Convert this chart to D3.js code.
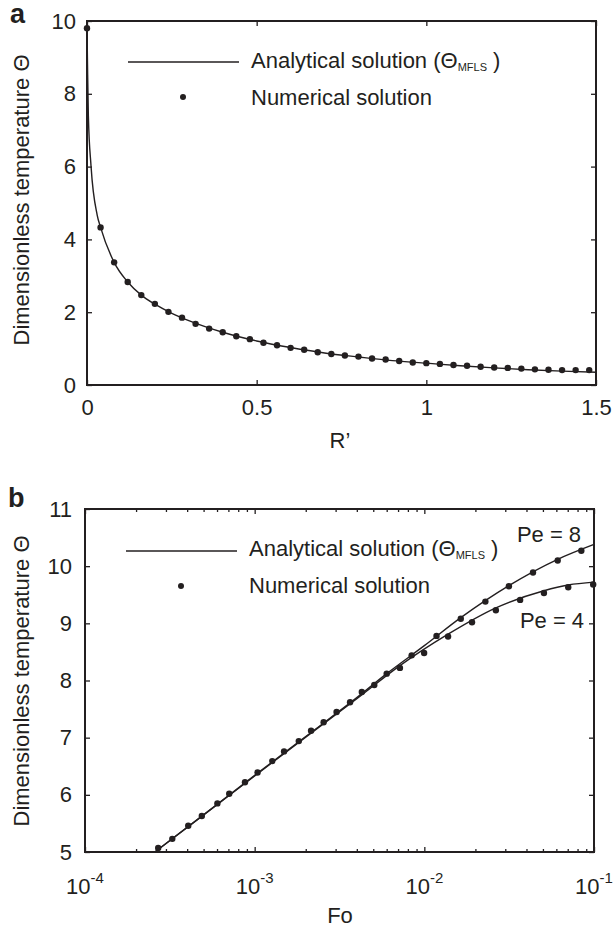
<!DOCTYPE html>
<html>
<head>
<meta charset="utf-8">
<script src="https://cdn.jsdelivr.net/npm/d3@7"></script>
<style>
body { margin: 0; background: #fff; }
text { font-family: "Liberation Sans", Arial, sans-serif; fill: #231f20; }
</style>
</head>
<body>
<script>
// panel a : theta vs R'
var rPts = [0, 0.04, 0.08, 0.12, 0.16, 0.20, 0.24, 0.28, 0.32, 0.36, 0.40, 0.44, 0.48, 0.52, 0.56, 0.60, 0.64, 0.68,
	0.72, 0.76, 0.80, 0.84, 0.88, 0.92, 0.96, 1.00, 1.04, 1.08, 1.12, 1.16, 1.20, 1.24, 1.28, 1.32, 1.36, 1.40, 1.44, 1.48];
var thetaPts = [9.8, 4.33, 3.37, 2.83, 2.47, 2.23, 2.01, 1.85, 1.68, 1.55, 1.45, 1.34, 1.26, 1.16, 1.09, 1.02, 0.97, 0.90,
	0.85, 0.81, 0.78, 0.73, 0.70, 0.66, 0.62, 0.60, 0.58, 0.55, 0.53, 0.50, 0.48, 0.47, 0.45, 0.43, 0.42, 0.41, 0.41, 0.41];
var rLine = [0, 0.0015, 0.004, 0.012, 0.03, 0.04, 0.08, 0.12, 0.16, 0.2, 0.25, 0.3, 0.4, 0.5, 0.6, 0.7, 0.8, 0.9, 1.0, 1.1, 1.2, 1.3, 1.4, 1.5];
var thetaLine = [9.8, 8.8, 7.4, 6.0, 4.67, 4.33, 3.37, 2.83, 2.47, 2.22, 1.97, 1.77, 1.45, 1.21, 1.03, 0.88, 0.77, 0.67, 0.60, 0.53, 0.47, 0.42, 0.38, 0.35];
var xTicksA = [0, 0.5, 1, 1.5];
var yTicksA = [0, 2, 4, 6, 8, 10];

// panel b : theta vs Fo
var foPe4 = [2.70e-4, 4.06e-4, 6.03e-4, 8.77e-4, 1.27e-3, 1.82e-3, 2.55e-3, 3.65e-3, 5.07e-3, 7.18e-3, 9.97e-3,
	1.38e-2, 1.91e-2, 2.64e-2, 3.67e-2, 5.07e-2, 7.05e-2, 9.89e-2];
var thPe4 = [5.07, 5.46, 5.85, 6.22, 6.59, 6.94, 7.27, 7.62, 7.92, 8.22, 8.48, 8.77, 9.02, 9.23, 9.41, 9.53, 9.63, 9.68];
var foPe8 = [3.27e-4, 4.88e-4, 7.08e-4, 1.04e-3, 1.49e-3, 2.15e-3, 3.04e-3, 4.28e-3, 6.00e-3, 8.42e-3,
	1.18e-2, 1.64e-2, 2.29e-2, 3.15e-2, 4.37e-2, 6.11e-2, 8.42e-2];
var thPe8 = [5.23, 5.63, 6.02, 6.39, 6.76, 7.12, 7.45, 7.80, 8.12, 8.44, 8.78, 9.08, 9.38, 9.65, 9.89, 10.10, 10.27];
var foLine4 = [2.58e-4, 5e-4, 1e-3, 2e-3, 4e-3, 7.18e-3, 1.38e-2, 2.64e-2, 5.07e-2, 7.05e-2, 1e-1];
var thLine4 = [5.0, 5.65, 6.33, 7.01, 7.68, 8.26, 8.81, 9.27, 9.57, 9.67, 9.72];
var foLine8 = [2.58e-4, 5e-4, 1e-3, 2e-3, 4e-3, 6e-3, 1e-2, 1.64e-2, 3.15e-2, 6.11e-2, 1e-1];
var thLine8 = [5.0, 5.65, 6.34, 7.02, 7.70, 8.12, 8.61, 9.10, 9.66, 10.12, 10.38];
var xTicksB = [1e-4, 1e-3, 1e-2, 1e-1];
var xExpB = ["-4", "-3", "-2", "-1"];
var yTicksB = [5, 6, 7, 8, 9, 10, 11];

var ink = '#231f20';

var svg = d3.select('body')
		.append('svg')
		.attr('width', 613)
		.attr('height', 928);

var xA = d3.scaleLinear().domain([0, 1.5]).range([87, 596]);
var yA = d3.scaleLinear().domain([0, 10]).range([385, 21]);
var xB = d3.scaleLog().domain([1e-4, 1e-1]).range([85, 594]);
var yB = d3.scaleLinear().domain([5, 11]).range([852, 509]);

function zip(xs, ys) {
	return xs.map(function(v, i) { return [v, ys[i]]; });
}

function ticks(x, y, xt, yt, xpad, ypad, xlabels) {
	var y0 = y.range()[0], y1 = y.range()[1];
	var x0 = x.range()[0], x1 = x.range()[1];
	var g = svg.append('g').attr('class', 'ticks');
	var bottom = g.append('g').attr('transform', 'translate(0,' + y0 + ')')
		.call(d3.axisBottom(x).tickValues(xt).tickSize(-5).tickPadding(xpad)
			.tickFormat(xlabels ? d3.format('') : ''));
	g.append('g').attr('transform', 'translate(0,' + y1 + ')')
		.call(d3.axisTop(x).tickValues(xt).tickSize(-5).tickFormat(''));
	g.append('g').attr('transform', 'translate(' + x0 + ',0)')
		.call(d3.axisLeft(y).tickValues(yt).tickSize(-5).tickPadding(ypad).tickFormat(d3.format('')));
	g.append('g').attr('transform', 'translate(' + x1 + ',0)')
		.call(d3.axisRight(y).tickValues(yt).tickSize(-5).tickFormat(''));
	g.selectAll('.domain').remove();
	g.selectAll('line').attr('stroke', ink).attr('stroke-width', 1.3);
	g.selectAll('text').attr('font-size', 22).attr('font-family', '"Liberation Sans", Arial, sans-serif').attr('fill', ink);
	// frame
	svg.append('rect')
		.attr('x', x0).attr('y', y1)
		.attr('width', x1 - x0).attr('height', y0 - y1)
		.attr('fill', 'none').attr('stroke', ink).attr('stroke-width', 2);
	return g;
}

function legend(x0, yLine, yDot, yText1, yText2) {
	svg.append('line')
		.attr('x1', x0).attr('x2', x0 + 111)
		.attr('y1', yLine).attr('y2', yLine)
		.attr('stroke', ink).attr('stroke-width', 1.4);
	svg.append('circle')
		.attr('cx', x0 + 55).attr('cy', yDot).attr('r', 3).attr('fill', ink);
	var t = svg.append('text')
		.attr('x', x0 + 123).attr('y', yText1)
		.attr('font-size', 22);
	t.append('tspan').text('Analytical solution (Θ');
	t.append('tspan').attr('font-size', 11).attr('dy', 3).text('MFLS');
	t.append('tspan').attr('dy', -3).text(' )');
	svg.append('text')
		.attr('x', x0 + 123).attr('y', yText2)
		.attr('font-size', 22)
		.text('Numerical solution');
}

function yLabel(cx, cy) {
	svg.append('text')
		.attr('transform', 'translate(' + cx + ',' + cy + ') rotate(-90)')
		.attr('text-anchor', 'middle')
		.attr('font-size', 22)
		.text('Dimensionless temperature Θ');
}

// ---- panel a ----
ticks(xA, yA, xTicksA, yTicksA, 14, 11, true);

var lineA = d3.line()
	.x(function(d) { return xA(d[0]); })
	.y(function(d) { return yA(d[1]); })
	.curve(d3.curveMonotoneX);

svg.append('path')
	.datum(zip(rLine, thetaLine))
	.attr('d', lineA)
	.attr('fill', 'none')
	.attr('stroke', ink)
	.attr('stroke-width', 1.4);

svg.selectAll('circle.ptA')
	.data(zip(rPts, thetaPts))
	.enter().append('circle')
	.attr('class', 'ptA')
	.attr('cx', function(d) { return xA(d[0]); })
	.attr('cy', function(d) { return yA(d[1]); })
	.attr('r', 3.2)
	.attr('fill', ink);

legend(128, 62, 97, 68, 105);
yLabel(29, 200);

svg.append('text').attr('x', 340).attr('y', 448).attr('text-anchor', 'middle')
	.attr('font-size', 22).text('R’');
svg.append('text').attr('x', 10).attr('y', 23)
	.attr('font-size', 27).attr('font-weight', 'bold').text('a');

// ---- panel b ----
var gB = ticks(xB, yB, xTicksB, yTicksB, 14, 13, false);

// minor log ticks
var minor = [];
[1e-4, 1e-3, 1e-2].forEach(function(p) {
	for (var k = 2; k <= 9; k++) minor.push(k * p);
});
gB.append('g').attr('transform', 'translate(0,852)')
	.call(d3.axisBottom(xB).tickValues(minor).tickSize(-3).tickFormat(''))
	.selectAll('line').attr('stroke', ink).attr('stroke-width', 1.3);
gB.append('g').attr('transform', 'translate(0,509)')
	.call(d3.axisTop(xB).tickValues(minor).tickSize(-3).tickFormat(''))
	.selectAll('line').attr('stroke', ink).attr('stroke-width', 1.3);
gB.selectAll('.domain').remove();

// power-of-ten labels
xTicksB.forEach(function(v, i) {
	var t = svg.append('text')
		.attr('x', xB(v)).attr('y', 894)
		.attr('text-anchor', 'middle')
		.attr('font-size', 22);
	t.append('tspan').text('10');
	t.append('tspan').attr('font-size', 15).attr('dy', -11).text(xExpB[i]);
});

var lineB = d3.line()
	.x(function(d) { return xB(d[0]); })
	.y(function(d) { return yB(d[1]); })
	.curve(d3.curveMonotoneX);

[zip(foLine4, thLine4), zip(foLine8, thLine8)].forEach(function(s) {
	svg.append('path')
		.datum(s)
		.attr('d', lineB)
		.attr('fill', 'none')
		.attr('stroke', ink)
		.attr('stroke-width', 1.4);
});

svg.selectAll('circle.ptB')
	.data(zip(foPe4, thPe4).concat(zip(foPe8, thPe8)))
	.enter().append('circle')
	.attr('class', 'ptB')
	.attr('cx', function(d) { return xB(d[0]); })
	.attr('cy', function(d) { return yB(d[1]); })
	.attr('r', 3.2)
	.attr('fill', ink);

legend(126, 551, 586, 556, 593);
yLabel(29, 681);

svg.append('text').attr('x', 549).attr('y', 542).attr('text-anchor', 'middle')
	.attr('font-size', 22).text('Pe = 8');
svg.append('text').attr('x', 552).attr('y', 628).attr('text-anchor', 'middle')
	.attr('font-size', 22).text('Pe = 4');

svg.append('text').attr('x', 340).attr('y', 923).attr('text-anchor', 'middle')
	.attr('font-size', 22).text('Fo');
svg.append('text').attr('x', 8).attr('y', 507)
	.attr('font-size', 27).attr('font-weight', 'bold').text('b');
</script>
</body>
</html>
